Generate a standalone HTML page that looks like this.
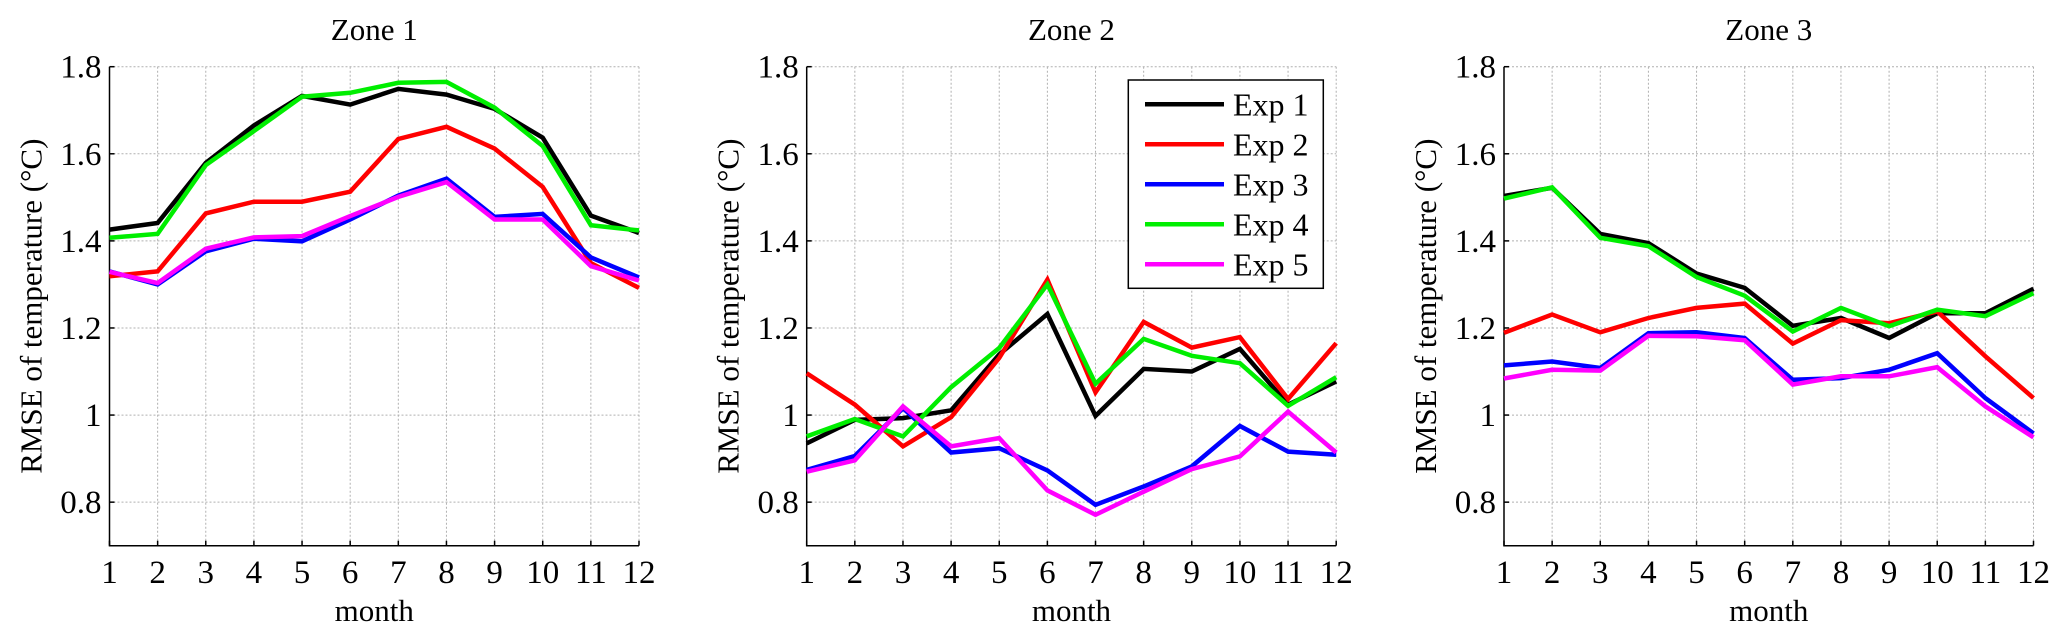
<!DOCTYPE html>
<html><head><meta charset="utf-8"><style>
html,body{margin:0;padding:0;background:#fff;}
svg{display:block;font-family:"Liberation Serif",serif;}
</style></head><body>
<svg id="chart" width="2067" height="640" viewBox="0 0 2067 640"></svg>
<script>
const months = [1,2,3,4,5,6,7,8,9,10,11,12];
const yTicks = [0.8,1,1.2,1.4,1.6,1.8];
const yTickLabels = ["0.8","1","1.2","1.4","1.6","1.8"];
const zoneTitles = ["Zone 1","Zone 2","Zone 3"];
const seriesNames = ["Exp 1","Exp 2","Exp 3","Exp 4","Exp 5"];
const seriesColors = ["#000000","#ff0000","#0000ff","#00ee00","#ff00ff"];
const zone1Exp1 = [1.426,1.441,1.579,1.665,1.733,1.713,1.749,1.736,1.703,1.637,1.458,1.418];
const zone1Exp2 = [1.319,1.330,1.463,1.490,1.490,1.513,1.634,1.662,1.612,1.524,1.349,1.292];
const zone1Exp3 = [1.330,1.300,1.376,1.405,1.399,1.449,1.504,1.543,1.455,1.462,1.362,1.316];
const zone1Exp4 = [1.407,1.416,1.574,1.652,1.731,1.740,1.763,1.765,1.706,1.618,1.436,1.424];
const zone1Exp5 = [1.329,1.303,1.382,1.408,1.411,1.457,1.501,1.535,1.449,1.449,1.342,1.309];
const zone2Exp1 = [0.935,0.989,0.993,1.011,1.139,1.232,0.998,1.106,1.100,1.152,1.024,1.077];
const zone2Exp2 = [1.096,1.024,0.928,0.995,1.131,1.311,1.052,1.214,1.155,1.179,1.037,1.165];
const zone2Exp3 = [0.874,0.906,1.016,0.914,0.924,0.873,0.794,0.836,0.882,0.975,0.916,0.909];
const zone2Exp4 = [0.951,0.991,0.951,1.064,1.154,1.300,1.072,1.175,1.136,1.119,1.021,1.087];
const zone2Exp5 = [0.870,0.896,1.020,0.928,0.947,0.827,0.771,0.824,0.876,0.905,1.008,0.914];
const zone3Exp1 = [1.503,1.522,1.416,1.395,1.325,1.292,1.205,1.223,1.177,1.234,1.234,1.290];
const zone3Exp2 = [1.189,1.231,1.190,1.223,1.246,1.256,1.164,1.218,1.211,1.238,1.135,1.039];
const zone3Exp3 = [1.114,1.123,1.108,1.188,1.190,1.177,1.081,1.085,1.104,1.142,1.039,0.958];
const zone3Exp4 = [1.497,1.523,1.407,1.388,1.317,1.274,1.192,1.246,1.204,1.242,1.227,1.280];
const zone3Exp5 = [1.084,1.104,1.102,1.182,1.181,1.172,1.070,1.089,1.089,1.110,1.020,0.949];
const zones = [
  [zone1Exp1,zone1Exp2,zone1Exp3,zone1Exp4,zone1Exp5],
  [zone2Exp1,zone2Exp2,zone2Exp3,zone2Exp4,zone2Exp5],
  [zone3Exp1,zone3Exp2,zone3Exp3,zone3Exp4,zone3Exp5]
];

const NS = "http://www.w3.org/2000/svg";
const svg = document.getElementById("chart");
function mk(tag, attrs, parent){
  const e = document.createElementNS(NS, tag);
  for (const k in attrs) e.setAttribute(k, attrs[k]);
  (parent||svg).appendChild(e);
  return e;
}
const panelLeft = [109.5, 806.7, 1504];
const plotW = 529.5, plotTop = 66.7, plotBottom = 545.7;
const yMin = 0.7, yMax = 1.8;

zones.forEach((series, zi) => {
  const L = panelLeft[zi], R = L + plotW;
  const xs = m => L + (m - months[0]) / (months[months.length-1] - months[0]) * plotW;
  const ys = v => plotBottom - (v - yMin) / (yMax - yMin) * (plotBottom - plotTop);
  const g = mk("g", {});
  
  
  months.forEach(m => {
    const gl = mk("line", {x1:xs(m), x2:xs(m), y1:plotTop, y2:plotBottom, stroke:"#b0b0b0", "stroke-width":1, "stroke-dasharray":"2,2"}, g);
    
    
  });
  yTicks.forEach(v => {
    const gl = mk("line", {x1:L, x2:R, y1:ys(v), y2:ys(v), stroke:"#b0b0b0", "stroke-width":1, "stroke-dasharray":"2,2"}, g);
    
    
  });
  const ax = mk("path", {d:`M${L},${plotTop} L${L},${plotBottom} L${R},${plotBottom}`, fill:"none", stroke:"#000", "stroke-width":1.5}, g);
  
  
  months.forEach(m => {
    mk("line", {x1:xs(m), x2:xs(m), y1:plotBottom, y2:plotBottom-5, stroke:"#000", "stroke-width":1.5}, g);
    const t = mk("text", {x:xs(m), y:583, "text-anchor":"middle", "font-size":33}, g);
    t.textContent = m;
    
    
  });
  yTicks.forEach((v,i) => {
    mk("line", {x1:L, x2:L+5, y1:ys(v), y2:ys(v), stroke:"#000", "stroke-width":1.5}, g);
    const t = mk("text", {x:L-8, y:ys(v)+11, "text-anchor":"end", "font-size":33}, g);
    t.textContent = yTickLabels[i];
    
    
  });
  const tt = mk("text", {x:L+plotW/2, y:40, "text-anchor":"middle", "font-size":31}, g);
  tt.textContent = zoneTitles[zi];
  
  
  const xl = mk("text", {x:L+plotW/2, y:621, "text-anchor":"middle", "font-size":31}, g);
  xl.textContent = "month";
  
  
  const yl = mk("text", {x:0, y:0, "text-anchor":"middle", "font-size":31, transform:`translate(${L-68},${(plotTop+plotBottom)/2}) rotate(-90)`}, g);
  yl.textContent = "RMSE of temperature (°C)";
  
  
  series.forEach((vals, si) => {
    const d = vals.map((v,i) => (i?"L":"M") + xs(months[i]).toFixed(1) + "," + ys(v).toFixed(1)).join(" ");
    const p = mk("path", {d:d, fill:"none", stroke:seriesColors[si], "stroke-width":4.5, "stroke-linejoin":"miter"}, g);
    
    
  });
});

const lg = mk("g", {});


mk("rect", {x:1128.3, y:80, width:195, height:208.3, fill:"#fff", stroke:"#000", "stroke-width":1.5}, lg);
seriesNames.forEach((n, i) => {
  const y = 104.3 + i*40;
  const ln = mk("line", {x1:1145, x2:1224, y1:y, y2:y, stroke:seriesColors[i], "stroke-width":4.5}, lg);
  
  
  const t = mk("text", {x:1233, y:y+11, "font-size":32}, lg);
  t.textContent = n;
  
  
});
</script>
</body></html>
